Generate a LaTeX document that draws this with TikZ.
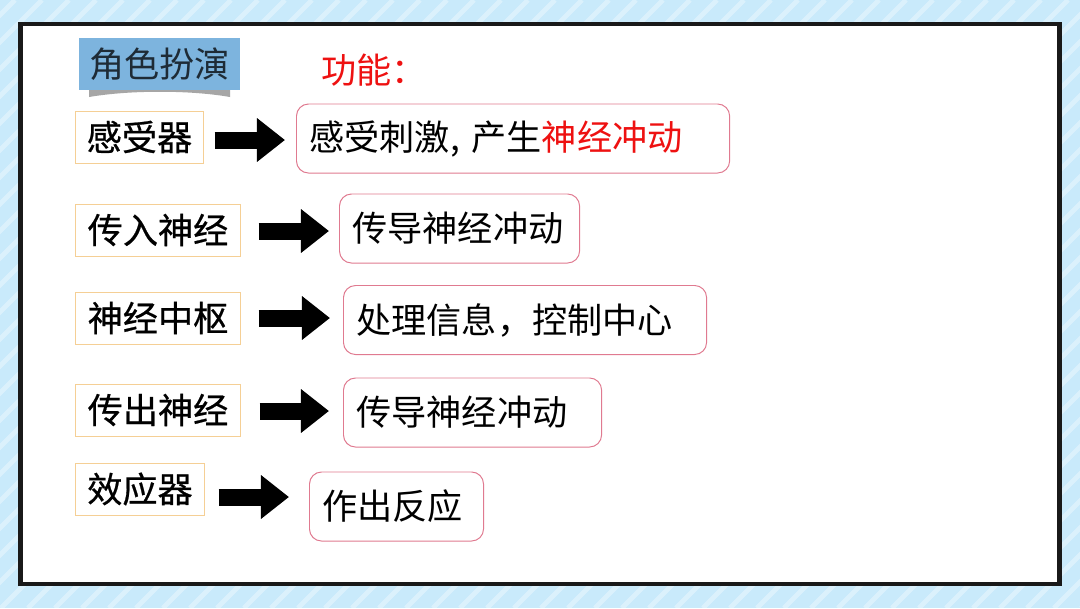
\documentclass[tikz,border=0pt]{standalone}
\usepackage{fontspec}
\newfontfamily\cjk{Noto Sans CJK SC}
\newfontfamily\cjkheavy{Noto Sans CJK SC}[FakeBold=0.6]
\usepackage{tikz}
\usetikzlibrary{arrows.meta}
\definecolor{skyback}{HTML}{C9EAFB}
\definecolor{titleblue}{HTML}{7DB4DE}
\definecolor{titleink}{HTML}{1E2B36}
\definecolor{partline}{HTML}{F5CF95}
\definecolor{roleline}{HTML}{E07A90}
\definecolor{keyred}{HTML}{EE1111}

\begin{document}
\begin{tikzpicture}[x=0.025cm,y=-0.025cm,
  every node/.style={font=\cjk\fontsize{25}{30}\selectfont},
  part/.style={draw=partline,line width=0.7pt,minimum height=1.3cm,inner sep=0pt,
    font=\cjkheavy\fontsize{25}{30}\selectfont},
  role/.style={draw=roleline,line width=0.7pt,rounded corners=0.3cm,minimum height=1.725cm,
    anchor=west,align=left,inner xsep=0.325cm,inner ysep=0pt},
  bigarrow/.style={line width=0.425cm,-{Triangle[length=0.7cm,width=1.05cm]}}]
  \useasboundingbox (0,0) rectangle (1080,608);

  % background
  \fill[skyback] (0,0) rectangle (1080,608);
  \begin{scope}
    \clip (0,0) rectangle (1080,608);
    \foreach \i in {-620,-593,...,1100}
      \draw[white,opacity=.35,line width=0.12cm] (\i,608) -- (\i+608,0);
  \end{scope}
  \draw[fill=white,draw=black!90,line width=0.1125cm] (20.5,24) rectangle (1059.5,584);

  % title
  \fill[gray!70] (89,90) -- (89,97) .. controls (130,90) and (190,90) .. (230,97) -- (230,90) -- cycle;
  \node[fill=titleblue,text=titleink,minimum width=4.025cm,minimum height=1.3cm,inner sep=0pt]
    (title) at (159.5,64) {角色扮演};
  \node[text=keyred,anchor=west,inner sep=0pt] (func) at (321,70) {功能：};

  % parts
  \node[part,minimum width=3.175cm] (l1) at (139.5,137) {感受器};
  \node[part,minimum width=4.1cm] (l2) at (158,230) {传入神经};
  \node[part,minimum width=4.1cm] (l3) at (158,318) {神经中枢};
  \node[part,minimum width=4.1cm] (l4) at (158,410) {传出神经};
  \node[part,minimum width=3.2cm] (l5) at (140,489) {效应器};

  % roles
  \node[role,text width=10.175cm] (r1) at (296,138.5) {感受刺激, 产生\textcolor{keyred}{神经冲动}};
  \node[role,text width=5.35cm] (r2) at (339,228.5) {传导神经冲动};
  \node[role,text width=8.425cm] (r3) at (343,320) {处理信息，控制中心};
  \node[role,text width=5.8cm] (r4) at (343,412.5) {传导神经冲动};
  \node[role,text width=3.7cm] (r5) at (309,506.5) {作出反应};

  % arrows
  \draw[bigarrow,shorten <=0.275cm,shorten >=0.275cm] (l1.east |- 0,140) -- (r1.west |- 0,140);
  \draw[bigarrow,shorten <=0.45cm,shorten >=0.25cm] (l2.east |- 0,231) -- (r2.west |- 0,231);
  \draw[bigarrow,shorten <=0.45cm,shorten >=0.325cm] (l3.east |- 0,318) -- (r3.west |- 0,318);
  \draw[bigarrow,shorten <=0.475cm,shorten >=0.35cm] (l4.east |- 0,411) -- (r4.west |- 0,411);
  \draw[bigarrow,shorten <=0.35cm,shorten >=0.5cm] (l5.east |- 0,497) -- (r5.west |- 0,497);
\end{tikzpicture}
\end{document}
